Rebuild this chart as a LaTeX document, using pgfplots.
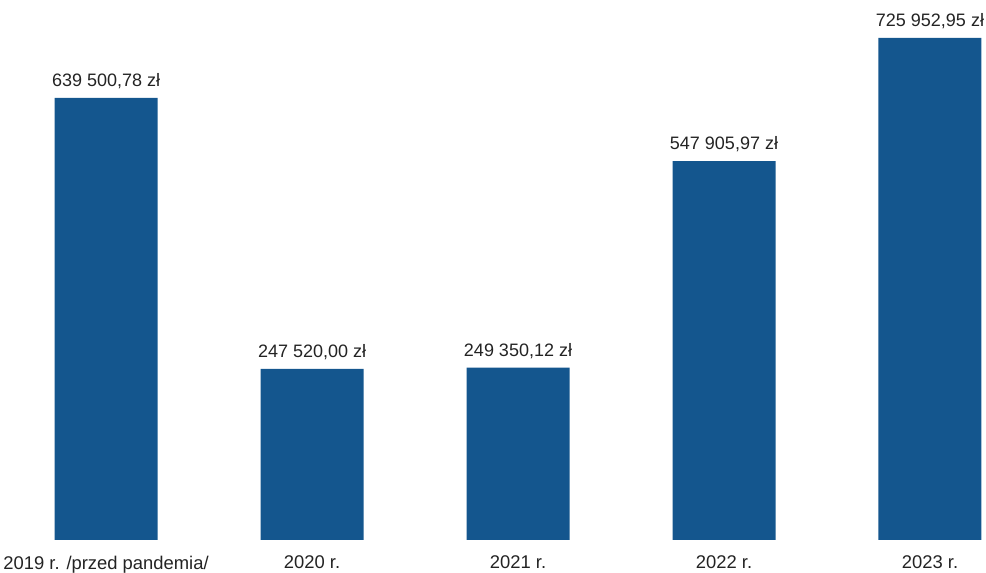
\documentclass[border=0pt]{standalone}
\usepackage{pgfplots}
\pgfplotsset{compat=1.18}
\usepackage{fontspec}
\setmainfont{Liberation Sans}
\definecolor{barblue}{RGB}{20,86,142}
\definecolor{labgray}{RGB}{35,35,35}

\begin{document}
\begin{tikzpicture}
\begin{axis}[
    name=ax,
    scale only axis, width=493pt, height=270pt,
    xmin=-0.515, xmax=4.272, ymin=0, ymax=780900,
    axis line style={draw=none}, major tick length=0pt,
    ytick=\empty,
    xtick=data,
    xticklabels={2019 r. /przed pandemia/, 2020 r., 2021 r., 2022 r., 2023 r.},
    xticklabel style={font=\fontsize{9.2}{11}\selectfont, text=labgray, yshift=-4.5pt},
    ybar, bar width=51.5pt,
    clip=false,
    point meta=explicit symbolic,
    nodes near coords,
    every node near coord/.append style={font=\fontsize{9}{11}\selectfont, text=labgray, anchor=south, yshift=1pt},
]
    % kwoty w zl, etykiety jak w oryginale
    \addplot[fill=barblue, draw=none] coordinates {
        (0,639500.78) [639 500,78 zł]
        (1,247520.00) [247 520,00 zł]
        (2,249350.12) [249 350,12 zł]
        (3,547905.97) [547 905,97 zł]
        (4,725952.95) [725 952,95 zł]
    };
\end{axis}
\pgfresetboundingbox
\path (ax.south west) ++(0,-16.5pt) rectangle (ax.north east);
\end{tikzpicture}
\end{document}
